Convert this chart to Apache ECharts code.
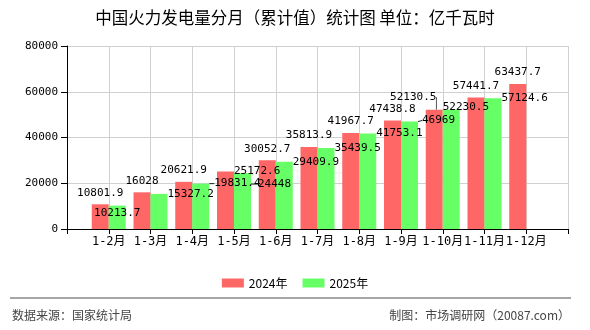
<!DOCTYPE html>
<html>
<head>
<meta charset="utf-8">
<script src="https://cdn.jsdelivr.net/npm/echarts@6/dist/echarts.min.js"></script>
<style>
  html, body { margin: 0; padding: 0; background: #fff; }
  #chart { width: 590px; height: 330px; }
</style>
</head>
<body>
<div id="chart"></div>
<script>
// months (cumulative, 1-N月)
const months = ['1-2月', '1-3月', '1-4月', '1-5月', '1-6月', '1-7月', '1-8月', '1-9月', '1-10月', '1-11月', '1-12月']
const values2024 = [10801.9, 16028, 20621.9, 25172.6, 30052.7, 35813.9, 41967.7, 47438.8, 52130.5, 57441.7, 63437.7]
const values2025 = [10213.7, 15327.2, 19831.4, 24448, 29409.9, 35439.5, 41753.1, 46969, 52230.5, 57124.6, null]
const yTicks = { min: 0, max: 80000, interval: 20000 }

const FONT = '"Noto Sans CJK SC", sans-serif'
const MONO = '"DejaVu Sans Mono", "Noto Sans CJK SC", monospace'

// label tweaks where the original labels were pushed around
const redLabelTweak = {
  3: { position: ['100%', 0], align: 'left', verticalAlign: 'middle' }
}
const greenLabelTweak = {
  0: { position: 'insideTop', distance: 2, align: 'center', verticalAlign: 'top' }
}
// labels moved (index into months), some with a guide line
const redLabelMove = { 8: [-21, -1] }
const greenLabelMove = { 2: [5, 0], 3: [7, 11], 7: [4, -1], 8: [-17, -2] }
const redGuide = [8]
const greenGuide = [2, 3, 7]

// pad an empty slot on both ends of the axis
const categories = ['', ...months, '']
const buildData = (vals, tweaks, guides) => [null, ...vals.map((v, i) => {
  if (v === null) return null
  if (!tweaks[i] && !guides.includes(i)) return v
  const item = { value: v }
  if (tweaks[i]) item.label = tweaks[i]
  if (guides.includes(i)) item.labelLine = { show: true }
  return item
}), null]
const moveLayout = moves => params => {
  const m = moves[params.dataIndex - 1]
  return m ? { dx: m[0], dy: m[1] } : {}
}

const chart = echarts.init(document.getElementById('chart'))

chart.setOption({
  animation: false,
  textStyle: { fontFamily: FONT },
  title: {
    text: '中国火力发电量分月（累计值）统计图 单位：亿千瓦时',
    left: 'center',
    top: 9,
    padding: 0,
    textStyle: { fontSize: 16.5, fontWeight: 'normal', color: '#000', fontFamily: FONT }
  },
  grid: { left: 67, right: 22, top: 46, bottom: 101, containLabel: false },
  legend: {
    data: ['2024年', '2025年'],
    left: 'center',
    top: 272,
    icon: 'rect',
    itemWidth: 22,
    itemHeight: 9,
    itemGap: 15,
    textStyle: { fontSize: 12, color: '#000', fontFamily: FONT }
  },
  xAxis: {
    type: 'category',
    data: categories,
    boundaryGap: false,
    axisLine: { lineStyle: { color: '#000', width: 1 } },
    axisTick: { show: true, length: 5, interval: 0, lineStyle: { color: '#000' } },
    axisLabel: { interval: 0, color: '#000', fontSize: 12, margin: 7, fontFamily: MONO },
    splitLine: { show: true, interval: 0, lineStyle: { color: '#d0d0d0' } }
  },
  yAxis: {
    type: 'value',
    min: yTicks.min,
    max: yTicks.max,
    interval: yTicks.interval,
    axisLine: { show: true, lineStyle: { color: '#000' } },
    axisTick: { show: true, length: 6, lineStyle: { color: '#000' } },
    axisLabel: { color: '#000', fontSize: 11, margin: 9, fontFamily: MONO, formatter: v => String(v) },
    splitLine: { lineStyle: { color: '#d0d0d0' } }
  },
  series: [
    {
      name: '2024年',
      type: 'bar',
      data: buildData(values2024, redLabelTweak, redGuide),
      barWidth: 17,
      barGap: '0%',
      itemStyle: { color: '#ff6666' },
      label: {
        show: true,
        position: 'top',
        distance: 6,
        color: '#000',
        fontSize: 11,
        fontFamily: MONO
      },
      labelLayout: moveLayout(redLabelMove),
      labelLine: { show: false, lineStyle: { color: '#555', width: 1 } }
    },
    {
      name: '2025年',
      type: 'bar',
      data: buildData(values2025, greenLabelTweak, greenGuide),
      barWidth: 17,
      barGap: '0%',
      itemStyle: { color: '#66ff66' },
      label: {
        show: true,
        position: ['100%', 0],
        align: 'left',
        verticalAlign: 'middle',
        color: '#000',
        fontSize: 11,
        fontFamily: MONO
      },
      labelLayout: moveLayout(greenLabelMove),
      labelLine: { show: false, lineStyle: { color: '#222', width: 1 } }
    }
  ],
  graphic: [
    {
      type: 'text',
      left: 240,
      top: 160,
      silent: true,
      style: { text: '市场调研网', fontSize: 26, fontFamily: FONT, fill: 'rgba(0,0,0,0.04)' }
    },
    {
      type: 'line',
      shape: { x1: 10, y1: 298, x2: 571, y2: 298 },
      style: { stroke: '#888', lineWidth: 1.5 }
    },
    {
      type: 'text',
      left: 12,
      top: 309,
      style: { text: '数据来源：国家统计局', fontSize: 12, fontFamily: FONT, fill: '#444' }
    },
    {
      type: 'text',
      right: 20,
      top: 309,
      style: { text: '制图：市场调研网（20087.com）', fontSize: 12, fontFamily: FONT, fill: '#444' }
    }
  ]
})
</script>
</body>
</html>
